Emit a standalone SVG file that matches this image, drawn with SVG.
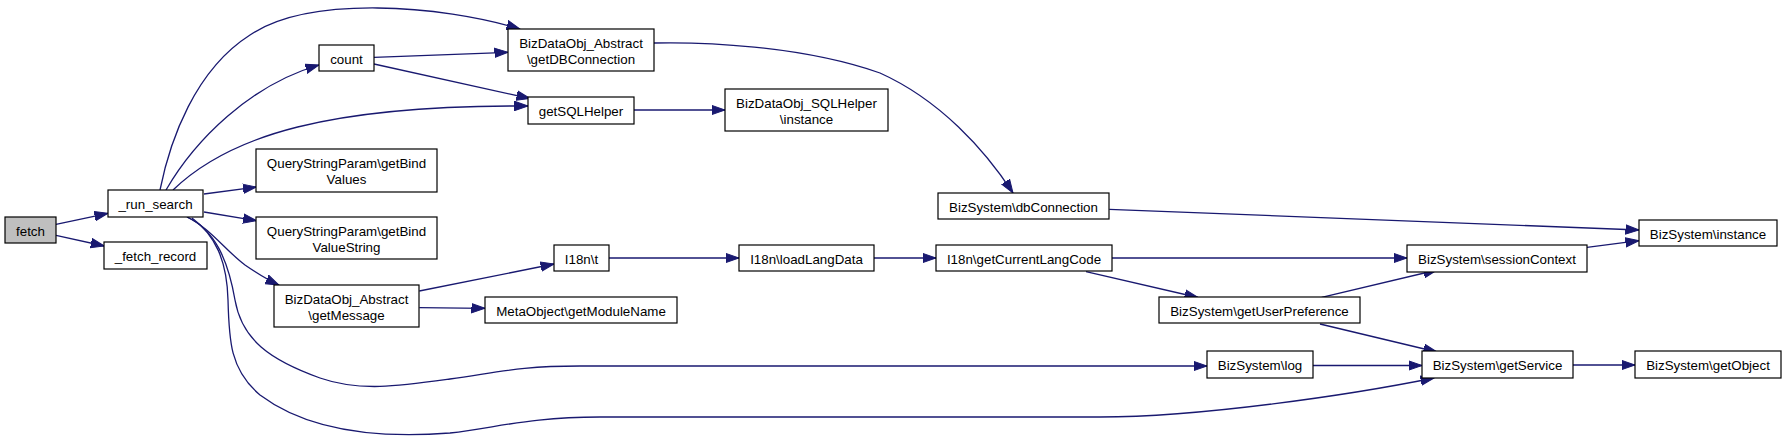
<svg xmlns="http://www.w3.org/2000/svg" width="1787" height="446" viewBox="0 0 1787 446">
<style>
.n rect{fill:#fff;stroke:#000;stroke-width:1.2}
.n.hl rect{fill:#bfbfbf}
.n text{font-family:"Liberation Sans",Arial,sans-serif;font-size:13.33px;fill:#000;text-anchor:middle}
.e path{fill:none;stroke:#191970;stroke-width:1.3;marker-end:url(#ah)}
</style>
<defs>
<marker id="ah" markerUnits="userSpaceOnUse" markerWidth="15" markerHeight="11" viewBox="0 0 15 11" refX="13.5" refY="5.5" orient="auto">
<path d="M0,0.8 L13.5,5.5 L0,10.2 Z" fill="#191970" stroke="#191970" stroke-width="1"/>
</marker>
</defs>
<rect width="1787" height="446" fill="#fff"/>
<g id="connectors" class="e">
<path d="M56,224.3 L108,213.3"/>
<path d="M56,235.3 L104.3,246"/>
<path d="M160,190 C170,140 195,70 250,35 C310,-5 440,5 520,29"/>
<path d="M166,190 C195,140 250,85 319,65"/>
<path d="M173,190 C230,135 330,105 528,106"/>
<path d="M204,194 L256.5,187"/>
<path d="M204,212 L256.5,220.7"/>
<path d="M187,217 C210,228 225,250 245,265 C258,274 268,280 279,285"/>
<path d="M187,217 C215,230 228,260 235,300 C242,340 270,360 320,378 C360,392 400,386 450,379 C500,372 520,366 580,366 L1207,366"/>
<path d="M192,218 C215,235 227,260 228,300 C229,340 230,370 260,395 C300,425 360,440 450,433 C500,427 530,417 600,417 L1100,417 C1200,417 1350,395 1434,378"/>
<path d="M374,57.3 L508,52.3"/>
<path d="M374,64 L530,98.5"/>
<path d="M654,43 C700,42 800,45 880,73 C940,100 985,150 1013,193"/>
<path d="M634,110 L725,110"/>
<path d="M419.3,291 L554,264"/>
<path d="M419.3,307.7 L485,308.3"/>
<path d="M609,258 L739,258"/>
<path d="M874,258 L936,258"/>
<path d="M1112,258 L1407,258"/>
<path d="M1086,271.7 L1198,297.5"/>
<path d="M1321.7,297.3 L1437,270"/>
<path d="M1320,324 L1437,352"/>
<path d="M1109.3,209.3 L1639,230"/>
<path d="M1587,247.3 L1639,240.7"/>
<path d="M1313,365.5 L1422,365.5"/>
<path d="M1573,365 L1635,365"/>
</g>
<g id="n_fetch" class="n hl"><rect x="5" y="217" width="51" height="26"/><text x="30.5" y="236">fetch</text></g>
<g id="n_run_search" class="n"><rect x="108" y="190" width="95" height="27"/><text x="155.5" y="209">_run_search</text></g>
<g id="n_fetch_record" class="n"><rect x="104" y="242" width="103" height="27"/><text x="155.5" y="261">_fetch_record</text></g>
<g id="n_count" class="n"><rect x="319" y="45" width="55" height="26"/><text x="346.5" y="64">count</text></g>
<g id="n_getBindValues" class="n"><rect x="256" y="149" width="181" height="43"/><text x="346.5" y="168">QueryStringParam\getBind</text><text x="346.5" y="184">Values</text></g>
<g id="n_getBindValueString" class="n"><rect x="256" y="217" width="181" height="42"/><text x="346.5" y="236">QueryStringParam\getBind</text><text x="346.5" y="252">ValueString</text></g>
<g id="n_getMessage" class="n"><rect x="274" y="285" width="145" height="42"/><text x="346.5" y="304">BizDataObj_Abstract</text><text x="346.5" y="320">\getMessage</text></g>
<g id="n_getDBConnection" class="n"><rect x="508" y="29" width="146" height="42"/><text x="581" y="48">BizDataObj_Abstract</text><text x="581" y="64">\getDBConnection</text></g>
<g id="n_getSQLHelper" class="n"><rect x="528" y="97" width="106" height="27"/><text x="581" y="116">getSQLHelper</text></g>
<g id="n_sqlhelper_instance" class="n"><rect x="725" y="89" width="163" height="42"/><text x="806.5" y="108">BizDataObj_SQLHelper</text><text x="806.5" y="124">\instance</text></g>
<g id="n_i18n_t" class="n"><rect x="554" y="245" width="55" height="26"/><text x="581.5" y="264">I18n\t</text></g>
<g id="n_loadLangData" class="n"><rect x="739" y="245" width="135" height="26"/><text x="806.5" y="264">I18n\loadLangData</text></g>
<g id="n_getModuleName" class="n"><rect x="485" y="297" width="192" height="26"/><text x="581" y="316">MetaObject\getModuleName</text></g>
<g id="n_dbConnection" class="n"><rect x="938" y="193" width="171" height="26"/><text x="1023.5" y="212">BizSystem\dbConnection</text></g>
<g id="n_getCurrentLangCode" class="n"><rect x="936" y="245" width="176" height="26"/><text x="1024" y="264">I18n\getCurrentLangCode</text></g>
<g id="n_getUserPreference" class="n"><rect x="1159" y="297" width="201" height="26"/><text x="1259.5" y="316">BizSystem\getUserPreference</text></g>
<g id="n_log" class="n"><rect x="1207" y="351" width="106" height="27"/><text x="1260" y="370">BizSystem\log</text></g>
<g id="n_instance" class="n"><rect x="1639" y="220" width="138" height="26"/><text x="1708" y="239">BizSystem\instance</text></g>
<g id="n_sessionContext" class="n"><rect x="1407" y="245" width="180" height="27"/><text x="1497" y="264">BizSystem\sessionContext</text></g>
<g id="n_getService" class="n"><rect x="1422" y="351" width="151" height="27"/><text x="1497.5" y="370">BizSystem\getService</text></g>
<g id="n_getObject" class="n"><rect x="1635" y="351" width="146" height="27"/><text x="1708" y="370">BizSystem\getObject</text></g>
</svg>
